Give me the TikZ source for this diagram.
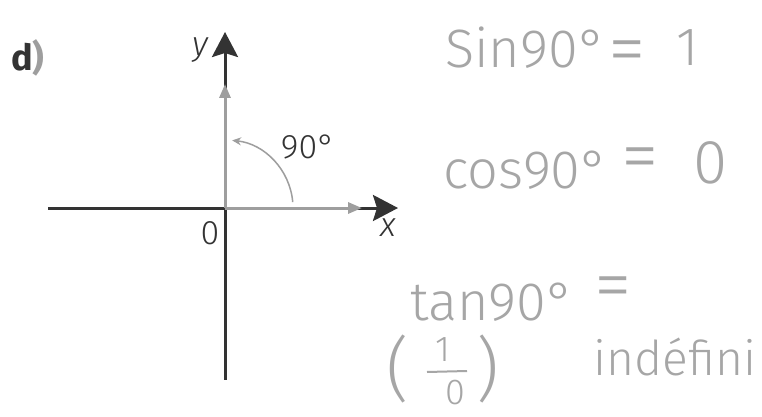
\documentclass[tikz,border=0pt]{standalone}
\usepackage{fontspec}
\setmainfont{Fira Sans}
\newfontfamily\lightfont{Fira Sans Light}
\usetikzlibrary{arrows.meta}
\definecolor{ink}{HTML}{333333}
\definecolor{pale}{HTML}{9E9E9E}
\definecolor{pencil}{HTML}{A6A6A6}
\begin{document}
\begin{tikzpicture}[x=1pt,y=-1pt,
  axis/.style={ink,line width=3pt},
  graya/.style={pale,line width=3pt},
  lbl/.style={ink,font=\lightfont\fontsize{34}{34}\selectfont,inner sep=0pt},
  hw/.style={pencil,font=\lightfont\fontsize{54}{54}\selectfont,inner sep=0pt},
  hweq/.style={hw,font=\lightfont\fontsize{76}{76}\selectfont}]
\useasboundingbox[fill=white] (0,0) rectangle (762,417);
% axes
\coordinate (O) at (225,208);
\coordinate (xl) at (48,208);
\coordinate (xr) at (398,208);
\coordinate (yt) at (225,32);
\coordinate (yb) at (225,380);
\coordinate (xg) at (362,208);
\coordinate (yg) at (225,84);
\draw[axis] (O) -- (yb);
\draw[axis] (xl) -- (O);
\draw[axis,-{Stealth[length=25pt,width=26pt,inset=4pt]}] (O) -- (xr);
\draw[axis,-{Stealth[length=25pt,width=26pt,inset=4pt]}] (O) -- (yt);
\draw[graya,-{Triangle[length=14pt,width=11pt]}] (O) -- (xg);
\draw[graya,-{Triangle[length=14pt,width=11pt]}] (O) -- (yg);
\draw[pale,line width=1.5pt,-{Stealth[length=9pt,width=8pt]}]
  ([shift={(-5:68)}]O) arc[start angle=-5,end angle=-84,radius=68];
% printed labels
\node[lbl,font=\fontsize{36}{36}\selectfont\bfseries] (d) at (28,58) {{\color{ink}d}{\color{pale})}};
\node[lbl,font=\lightfont\itshape\fontsize{34}{34}\selectfont] (ylab) at (200,50) {y};
\node[lbl,font=\lightfont\itshape\fontsize{34}{34}\selectfont] (xlab) at (388,228) {x};
\node[lbl] (zero) at (210,233) {0};
\node[lbl] (ang) at (308,147) {90°};
% handwriting
\node[hw,anchor=base west] (sin) at (445,68) {Sin90°};
\node[hweq] (eq1) at (627,58) {=};
\node[hw] (one) at (688,48) {1};
\node[hw,anchor=base west] (cos) at (443,188) {cos90°};
\node[hweq] (eq2) at (640,165) {=};
\node[hw,font=\lightfont\fontsize{62}{62}\selectfont] (zero2) at (711,163) {0};
\node[hw,anchor=base west] (tan) at (410,320) {tan90°};
\node[hweq] (eq3) at (613,294) {=};
\node[hw,font=\lightfont\fontsize{48}{48}\selectfont,anchor=base west] (ind) at (593,375) {indéfini};
\node[hw,font=\lightfont\fontsize{70}{70}\selectfont] (lp) at (398,369) {(};
\node[hw,font=\lightfont\fontsize{70}{70}\selectfont] (rp) at (488,369) {)};
\node[hw,font=\lightfont\fontsize{36}{36}\selectfont] (num) at (443,350) {1};
\node[hw,font=\lightfont\fontsize{36}{36}\selectfont] (den) at (455,393) {0};
\coordinate (b1) at (427,372);
\coordinate (b2) at (467,371);
\draw[pencil,line width=2pt] (b1) -- (b2);
\end{tikzpicture}
\end{document}
